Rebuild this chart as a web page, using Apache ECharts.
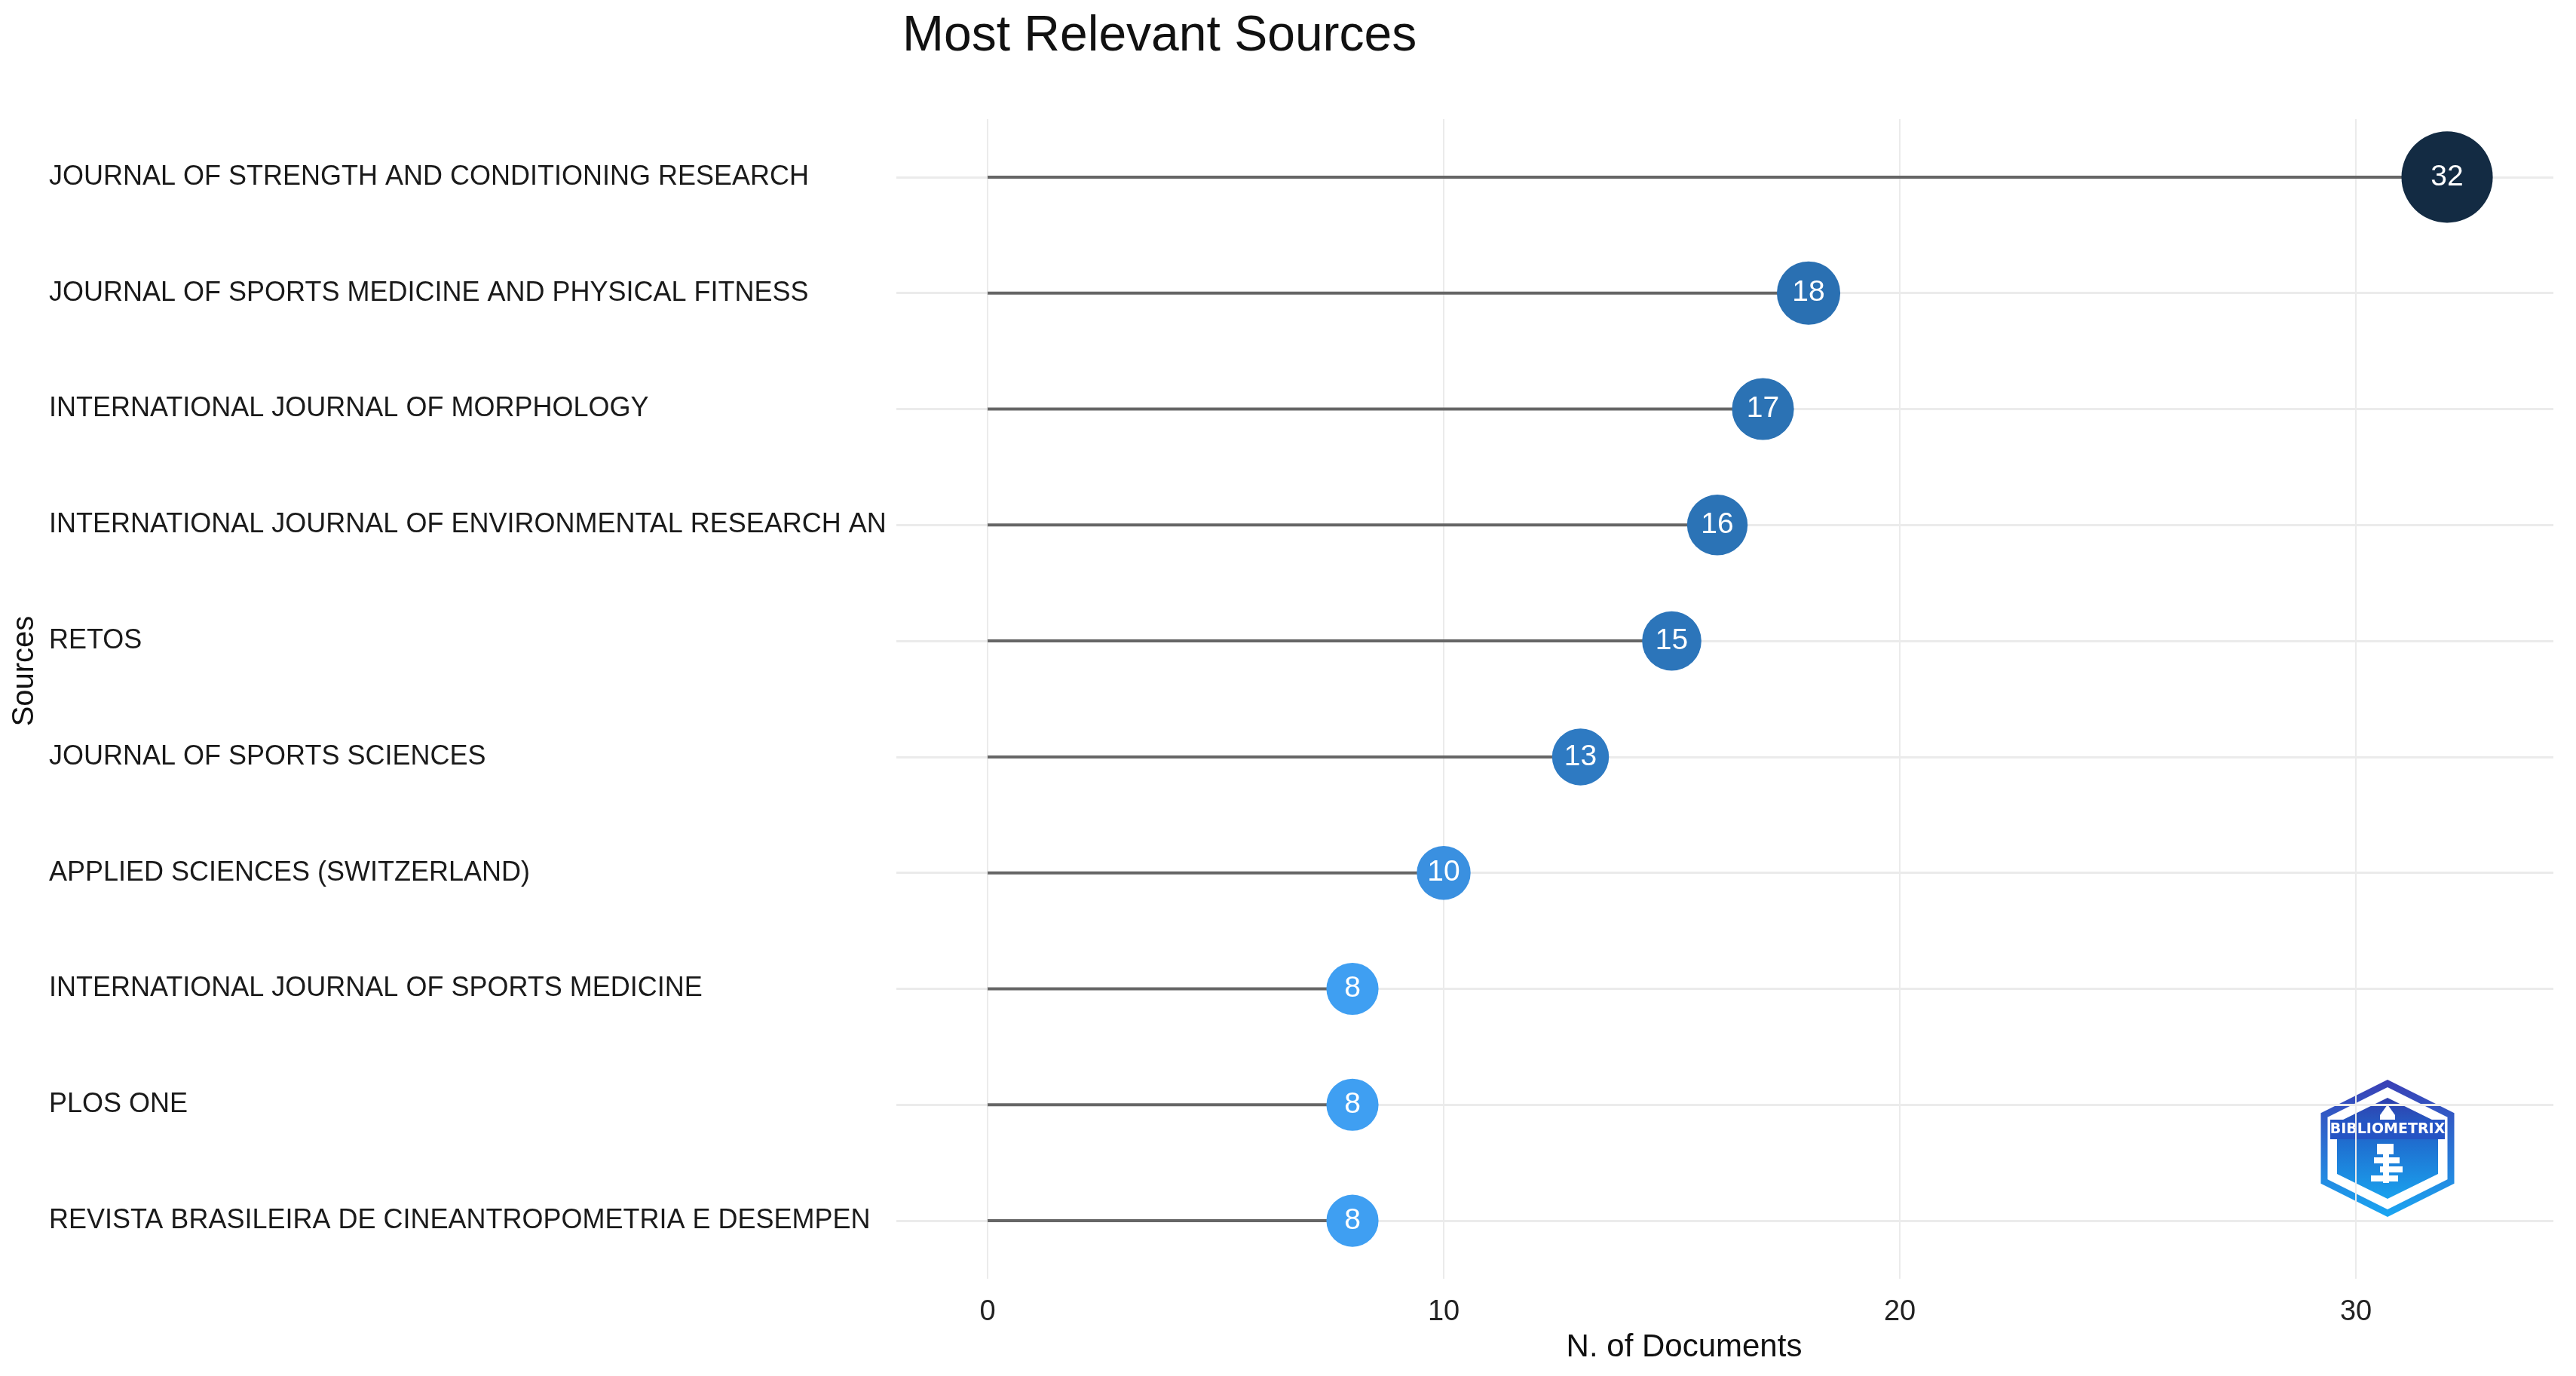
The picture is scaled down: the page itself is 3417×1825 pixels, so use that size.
<!DOCTYPE html>
<html>
<head>
<meta charset="utf-8">
<script src="https://cdn.jsdelivr.net/npm/echarts@6/dist/echarts.min.js"></script>
<style>
html,body{margin:0;padding:0;background:#fff;}
#chart{width:3417px;height:1825px;}
</style>
</head>
<body>
<div id="chart"></div>
<script>
const categories = [
  'JOURNAL OF STRENGTH AND CONDITIONING RESEARCH',
  'JOURNAL OF SPORTS MEDICINE AND PHYSICAL FITNESS',
  'INTERNATIONAL JOURNAL OF MORPHOLOGY',
  'INTERNATIONAL JOURNAL OF ENVIRONMENTAL RESEARCH AN',
  'RETOS',
  'JOURNAL OF SPORTS SCIENCES',
  'APPLIED SCIENCES (SWITZERLAND)',
  'INTERNATIONAL JOURNAL OF SPORTS MEDICINE',
  'PLOS ONE',
  'REVISTA BRASILEIRA DE CINEANTROPOMETRIA E DESEMPEN'
];
const documents = [32, 18, 17, 16, 15, 13, 10, 8, 8, 8];
const xTickValues = [0, 10, 20, 30];
const rowIndex = categories.map((c, i) => i);

const FONT = 'Liberation Sans, Arial, sans-serif';

const colorStops = [
  [8, [63, 159, 242]],
  [10, [58, 144, 224]],
  [13, [46, 122, 194]],
  [16, [43, 115, 182]],
  [18, [42, 112, 178]],
  [32, [19, 43, 67]]
];
function colorFor(v) {
  if (v <= colorStops[0][0]) return 'rgb(' + colorStops[0][1].join(',') + ')';
  for (let i = 1; i < colorStops.length; i++) {
    const a = colorStops[i - 1], b = colorStops[i];
    if (v <= b[0]) {
      const t = (v - a[0]) / (b[0] - a[0]);
      const c = a[1].map((x, k) => Math.round(x + (b[1][k] - x) * t));
      return 'rgb(' + c.join(',') + ')';
    }
  }
  return 'rgb(' + colorStops[colorStops.length - 1][1].join(',') + ')';
}
function sizeFor(v) { return 64 + 0.262 * v + 0.0476 * v * v; }

const chart = echarts.init(document.getElementById('chart'));
const hexOuter = [[0,-86],[84,-44],[84,44],[0,86],[-84,44],[-84,-44]];
const hexInner = [[0,-67],[67,-34],[67,34],[0,67],[-67,34],[-67,-34]];

const option = {
  animation: false,
  backgroundColor: '#ffffff',
  textStyle: { fontFamily: FONT },
  title: {
    text: 'Most Relevant Sources',
    left: 1192,
    top: 11,
    textStyle: { fontFamily: FONT, fontSize: 66, fontWeight: 'normal', color: '#111' }
  },
  grid: { left: 1189, right: 30, top: 158, bottom: 129 },
  xAxis: {
    type: 'value',
    min: -2,
    max: 34.33,
    axisLine: { show: false },
    axisTick: { show: false, customValues: xTickValues },
    axisLabel: { customValues: xTickValues, fontSize: 38, color: '#222', margin: 26, fontFamily: FONT },
    splitLine: { show: true, lineStyle: { color: '#EBEBEB', width: 2 } }
  },
  yAxis: [
    {
      type: 'category',
      inverse: true,
      data: categories,
      axisLine: { show: false },
      axisTick: { show: false },
      axisLabel: { align: 'left', margin: 1124, fontSize: 36, color: '#1a1a1a', fontFamily: FONT },
      splitLine: { show: false }
    },
    {
      type: 'value',
      inverse: true,
      min: -0.5,
      max: 9.5,
      position: 'left',
      axisLine: { show: false },
      axisTick: { show: false, customValues: rowIndex },
      axisLabel: { show: false, customValues: rowIndex },
      splitLine: { show: true, lineStyle: { color: '#EBEBEB', width: 3 } }
    }
  ],
  graphic: [
    {
      type: 'text',
      x: 33, y: 890,
      rotation: Math.PI / 2,
      style: { text: 'Sources', fontSize: 40, fontFamily: FONT, fill: '#111', align: 'center', verticalAlign: 'middle' }
    },
    {
      type: 'text',
      x: 2234, y: 1787,
      style: { text: 'N. of Documents', fontSize: 42, fontFamily: FONT, fill: '#111', align: 'center', verticalAlign: 'middle' }
    },
    {
      type: 'group',
      x: 3167, y: 1523,
      z: 10,
      children: [
        { type: 'polygon', shape: { points: hexOuter },
          style: { fill: '#ffffff', lineWidth: 9,
            stroke: new echarts.graphic.LinearGradient(0, 0, 0, 1, [
              { offset: 0, color: '#3a3fb5' }, { offset: 1, color: '#1aa6f2' }]) } },
        { type: 'polygon', shape: { points: hexInner },
          style: { fill: new echarts.graphic.LinearGradient(0, 0, 0, 1, [
              { offset: 0, color: '#2f3fae' }, { offset: 0.45, color: '#1f6fd0' }, { offset: 1, color: '#1aa2ee' }]) } },
        { type: 'rect', shape: { x: -76, y: -38, width: 152, height: 26 }, style: { fill: '#2554c4' } },
        { type: 'polygon', shape: { points: [[0,-58],[10,-44],[10,-38],[-10,-38],[-10,-44]] }, style: { fill: '#ffffff' } },
        { type: 'text', style: { text: 'BIBLIOMETRIX', x: 0, y: -25, align: 'center', verticalAlign: 'middle',
            fontSize: 19, fontWeight: 'bold', fontFamily: 'DejaVu Sans, sans-serif', fill: '#ffffff' } },
        { type: 'rect', shape: { x: -14, y: -6, width: 22, height: 14 }, style: { fill: '#ffffff' } },
        { type: 'rect', shape: { x: -18, y: 12, width: 34, height: 8 }, style: { fill: '#ffffff' } },
        { type: 'rect', shape: { x: -10, y: 24, width: 30, height: 8 }, style: { fill: '#ffffff' } },
        { type: 'rect', shape: { x: -22, y: 36, width: 36, height: 8 }, style: { fill: '#ffffff' } },
        { type: 'rect', shape: { x: -6, y: -6, width: 8, height: 52 }, style: { fill: '#ffffff' } }
      ]
    }
  ],
  series: [
    {
      type: 'bar',
      yAxisIndex: 0,
      data: documents,
      barWidth: 4,
      silent: true,
      z: 2,
      itemStyle: { color: '#666666' }
    },
    {
      type: 'scatter',
      yAxisIndex: 0,
      z: 3,
      data: documents.map((v, i) => [v, categories[i]]),
      symbol: 'circle',
      symbolSize: d => sizeFor(d[0]),
      itemStyle: { color: p => colorFor(p.value[0]), opacity: 1 },
      label: {
        show: true,
        position: 'inside',
        formatter: p => String(p.value[0]),
        color: '#ffffff',
        fontSize: 39,
        fontFamily: FONT
      }
    }
  ]
};
chart.setOption(option);
</script>
</body>
</html>
